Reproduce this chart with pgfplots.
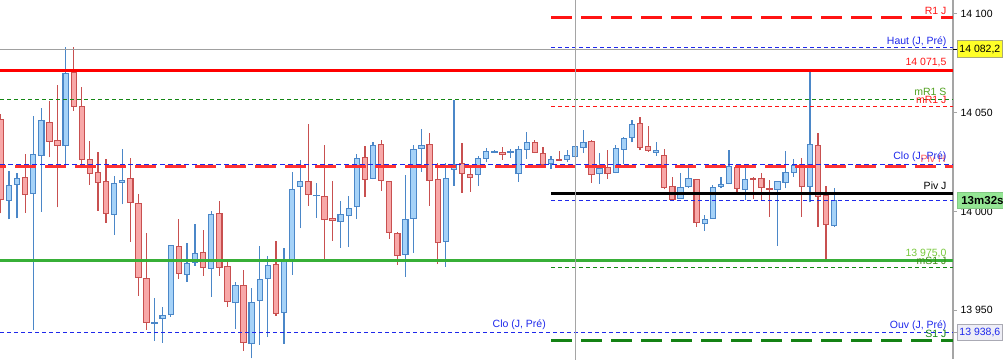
\documentclass[border=0pt]{standalone}
\usepackage{pgfplots}
\pgfplotsset{compat=1.18}
\usepackage{pgfplotstable}
\usepackage{fontspec}
\setmainfont{Liberation Sans}

\definecolor{rbord}{RGB}{200,80,80}
\definecolor{rfill}{RGB}{248,168,168}
\definecolor{bbord}{RGB}{75,135,200}
\definecolor{bfill}{RGB}{165,210,248}
\definecolor{lvred}{RGB}{255,20,20}
\definecolor{lvblue}{RGB}{30,40,235}
\definecolor{lvgreen}{RGB}{20,135,20}
\definecolor{lvgreen2}{RGB}{55,175,55}
\definecolor{lbgreen}{RGB}{120,200,60}
\definecolor{axgray}{RGB}{165,165,165}

% red (bearish) candles: index, open, high, low, close
\pgfplotstableread{
i O H L C
0 14046.7 14049.4 13999.1 14006.2
3 14017.3 14029.0 13999.4 14008.7
6 14045.2 14056.0 14027.4 14035.5
7 14036.0 14064.1 14002.1 14033.5
9 14070.5 14083.3 14051.1 14053.3
10 14053.3 14063.0 14021.9 14026.4
11 14026.4 14035.7 14013.6 14019.3
12 14019.8 14030.0 14000.4 14014.8
13 14015.3 14026.6 13994.4 13999.1
16 14016.8 14027.1 13984.7 14004.6
17 14004.1 14008.9 13957.4 13966.7
18 13966.2 13989.1 13940.2 13943.9
22 13982.4 13996.2 13966.0 13968.7
25 13979.3 13990.6 13967.5 13971.7
27 13999.1 14005.3 13967.5 13971.7
28 13972.2 13974.8 13951.8 13954.5
30 13962.6 13970.4 13929.5 13933.8
34 13973.3 13985.1 13947.3 13948.4
38 14015.3 14044.3 14003.0 14008.7
40 14007.7 14033.5 13976.0 13996.0
41 13996.5 14015.3 13985.2 13995.5
45 14027.4 14033.0 14007.5 14016.3
47 14034.0 14036.0 14010.6 14015.8
48 14015.3 14015.3 13986.2 13989.5
49 13988.9 13989.8 13973.1 13977.8
53 14034.0 14039.6 14003.0 14015.8
54 14016.3 14024.4 13973.3 13984.4
57 14024.4 14034.5 14009.5 14019.3
58 14018.8 14021.9 14010.0 14017.3
62 14030.0 14032.7 14026.1 14028.9
66 14035.0 14036.2 14029.5 14030.0
67 14029.5 14032.7 14023.4 14023.9
69 14026.4 14030.8 14025.9 14025.9
73 14035.5 14036.2 14014.6 14018.8
75 14022.4 14031.1 14016.6 14019.3
79 14044.6 14047.9 14031.0 14032.5
80 14033.0 14043.3 14030.3 14031.0
82 14028.4 14031.5 14011.2 14012.2
83 14012.7 14017.3 14005.8 14006.2
86 14016.3 14016.3 13992.3 13994.5
91 14022.4 14022.4 14009.2 14011.7
93 14016.8 14017.3 14006.5 14016.3
94 14016.8 14019.3 14005.8 14012.2
95 14011.7 14015.8 13997.4 14011.2
99 14023.9 14026.9 13997.4 14012.7
101 14033.5 14039.6 13992.3 14007.7
102 14008.2 14012.7 13976.0 13993.5
}\redc

% blue (bullish) candles: index, open, high, low, close
\pgfplotstableread{
i O H L C
1 14005.7 14020.5 13996.0 14013.3
2 14013.8 14019.3 13996.5 14016.8
4 14009.2 14048.4 13940.0 14029.0
5 14028.4 14052.2 13999.9 14046.2
8 14033.5 14083.3 14022.7 14070.0
14 13998.6 14018.0 13988.3 14014.3
15 14014.8 14031.7 14003.6 14015.8
19 13943.4 13956.2 13934.6 13943.9
20 13945.9 13951.7 13933.6 13947.4
21 13947.9 13982.9 13946.8 13982.9
23 13968.2 13984.1 13964.5 13973.8
24 13974.3 13993.7 13972.6 13978.8
26 13971.2 14000.1 13956.9 13998.6
29 13954.0 13964.1 13940.7 13962.6
31 13933.3 13961.1 13925.7 13954.0
32 13955.0 13982.5 13932.6 13965.7
33 13966.2 13977.5 13936.6 13972.7
35 13948.9 13981.5 13933.1 13974.8
36 13975.8 14019.8 13968.0 14011.2
37 14012.7 14025.9 13991.5 14015.3
39 14008.0 14014.3 13996.9 14008.2
42 13995.0 14005.2 13981.7 13998.6
43 13998.1 14007.7 13982.2 14001.6
44 14002.6 14029.0 13996.4 14026.9
46 14016.8 14035.0 14016.3 14033.5
50 13978.3 14018.3 13967.0 13996.0
51 13996.5 14033.5 13979.2 14031.5
52 14032.0 14041.6 14020.2 14033.5
55 13984.9 14024.4 13972.1 14016.8
56 14021.4 14056.5 14013.1 14023.9
59 14018.8 14027.9 14013.1 14026.9
60 14026.9 14032.0 14024.9 14030.5
61 14030.0 14031.1 14029.5 14030.5
63 14030.0 14031.5 14027.3 14030.1
64 14019.3 14033.0 14015.1 14031.5
65 14031.5 14040.3 14026.8 14035.0
68 14024.4 14027.9 14021.7 14026.4
70 14026.4 14031.1 14025.2 14028.4
71 14027.9 14041.3 14026.9 14033.0
72 14032.5 14041.3 14029.5 14035.0
74 14019.3 14029.6 14014.1 14021.9
76 14019.8 14033.5 14019.3 14032.0
77 14031.5 14037.7 14023.9 14037.0
78 14037.6 14046.3 14035.0 14044.1
81 14030.0 14035.2 14028.3 14031.0
84 14006.7 14019.3 14006.7 14012.2
85 14012.6 14023.4 14012.1 14016.8
87 13994.0 13998.1 13990.3 13996.0
88 13996.5 14013.3 13996.5 14012.2
89 14012.7 14017.3 14011.7 14013.8
90 14014.3 14031.0 14013.8 14022.9
92 14011.2 14022.4 14005.8 14016.3
96 14011.2 14015.3 13982.7 14015.3
97 14014.8 14030.5 14011.7 14019.8
98 14019.8 14026.4 14017.6 14023.4
100 14012.7 14070.6 14004.6 14034.0
103 13993.0 14011.7 13992.3 14005.7
}\bluec

\begin{document}
\begin{tikzpicture}
\useasboundingbox (0,0) rectangle (1003pt,359pt);
\begin{axis}[
  at={(0,0)}, anchor=south west,
  scale only axis, width=953pt, height=359pt,
  xmin=-0.111, xmax=117.69, ymin=13925.32, ymax=14107.09,
  axis x line=none, axis y line*=right,
  axis line style={axgray, line width=1.3pt},
  ytick={13950,14000,14050,14100},
  yticklabels={13 950,14 000,14 050,14 100},
  tick align=outside, major tick length=4pt,
  tick style={axgray, line width=1pt},
  yticklabel style={font=\fontsize{10.5}{12}\selectfont, text=black},
  every error bar/.append style={line cap=butt},
]
% wicks
\addplot[forget plot, draw=none, mark=none, error bars/.cd, y dir=plus, y explicit, error mark=none,
  error bar style={draw=rbord, line width=1.2pt}]
  table[x=i, y=L, y error plus expr={\thisrow{H}-\thisrow{L}}] {\redc};
\addplot[forget plot, draw=none, mark=none, error bars/.cd, y dir=plus, y explicit, error mark=none,
  error bar style={draw=bbord, line width=1.2pt}]
  table[x=i, y=L, y error plus expr={\thisrow{H}-\thisrow{L}}] {\bluec};
% bodies: border
\addplot[forget plot, draw=none, mark=none, error bars/.cd, y dir=plus, y explicit, error mark=none,
  error bar style={draw=rbord, line width=6.4pt}]
  table[x=i, y expr={\thisrow{C}-0.35}, y error plus expr={\thisrow{O}-\thisrow{C}+0.7}] {\redc};
\addplot[forget plot, draw=none, mark=none, error bars/.cd, y dir=plus, y explicit, error mark=none,
  error bar style={draw=bbord, line width=6.4pt}]
  table[x=i, y expr={\thisrow{O}-0.35}, y error plus expr={\thisrow{C}-\thisrow{O}+0.7}] {\bluec};
% bodies: fill
\addplot[forget plot, draw=none, mark=none, error bars/.cd, y dir=plus, y explicit, error mark=none,
  error bar style={draw=rfill, line width=4.2pt}]
  table[x=i, y expr={\thisrow{C}+0.35}, y error plus expr={max(\thisrow{O}-\thisrow{C}-0.7,0)}] {\redc};
\addplot[forget plot, draw=none, mark=none, error bars/.cd, y dir=plus, y explicit, error mark=none,
  error bar style={draw=bfill, line width=4.2pt}]
  table[x=i, y expr={\thisrow{O}+0.35}, y error plus expr={max(\thisrow{C}-\thisrow{O}-0.7,0)}] {\bluec};

% level lines
\addplot[forget plot, color={rgb,255:red,160;green,160;blue,160}, line width=1.2pt] coordinates {(-0.111,14082.2) (117.69,14082.2)};
\addplot[forget plot, lvred, line width=3pt, dash pattern=on 21pt off 9pt] coordinates {(68,14098.1) (117.69,14098.1)};
\addplot[forget plot, lvblue, line width=1pt, dash pattern=on 4pt off 3pt] coordinates {(68,14083.1) (117.69,14083.1)};
\addplot[forget plot, color={rgb,255:red,255;green,0;blue,0}, line width=3.5pt] coordinates {(-0.111,14071.5) (117.69,14071.5)};
\addplot[forget plot, lvgreen, line width=1pt, dash pattern=on 4pt off 3pt] coordinates {(-0.111,14056.8) (117.69,14056.8)};
\addplot[forget plot, lvred, line width=1pt, dash pattern=on 4pt off 3pt] coordinates {(68,14053.3) (117.69,14053.3)};
\addplot[forget plot, lvblue, line width=1.2pt, dash pattern=on 5pt off 3pt] coordinates {(-0.111,14023.9) (117.69,14023.9)};
\addplot[forget plot, color={rgb,255:red,255;green,50;blue,50}, line width=3pt, dash pattern=on 21pt off 9pt, dash phase=15pt] coordinates {(-0.111,14022.7) (117.69,14022.7)};
\addplot[forget plot, black, line width=2.7pt] coordinates {(68,14009.2) (117.69,14009.2)};
\addplot[forget plot, lvblue, line width=1pt, dash pattern=on 4pt off 3pt] coordinates {(68,14005.8) (117.69,14005.8)};
\addplot[forget plot, lvgreen2, line width=3pt] coordinates {(-0.111,13975.0) (117.69,13975.0)};
\addplot[forget plot, lvgreen, line width=1pt, dash pattern=on 4pt off 3pt] coordinates {(68,13971.7) (117.69,13971.7)};
\addplot[forget plot, lvblue, line width=1pt, dash pattern=on 4pt off 3pt] coordinates {(-0.111,13938.8) (117.69,13938.8)};
\addplot[forget plot, color={rgb,255:red,20;green,130;blue,20}, line width=3pt, dash pattern=on 21pt off 9pt] coordinates {(68,13934.8) (117.69,13934.8)};
\addplot[forget plot, color={rgb,255:red,165;green,165;blue,165}, line width=1.3pt] coordinates {(71,13900) (71,14120)};

% labels
\begin{scope}[every node/.style={font=\fontsize{10.5}{12}\selectfont, inner sep=0pt, anchor=base east}]
\node[text=lvred] at (axis cs:116.91,14099.5) {R1 J};
\node[text=lvblue] at (axis cs:116.91,14084.8) {Haut (J, Pré)};
\node[text=lvred] at (axis cs:116.91,14073.9) {14 071,5};
\node[text={rgb,255:red,80;green,160;blue,30}] at (axis cs:116.91,14058.6) {mR1 S};
\node[text=lvred] at (axis cs:116.91,14054.8) {mR1 J};
\node[text={rgb,255:red,255;green,90;blue,90}] at (axis cs:116.80,14024.6) {Piv H};
\node[text=lvblue] at (axis cs:116.91,14026.1) {Clo (J, Pré)};
\node[text=black] at (axis cs:116.91,14010.9) {Piv J};
\node[text=lbgreen] at (axis cs:116.91,13977.2) {13 975,0};
\node[text={rgb,255:red,60;green,140;blue,20}] at (axis cs:116.91,13973.4) {mS1 J};
\node[text=lvblue] at (axis cs:116.91,13941.0) {Ouv (J, Pré)};
\node[text=lvgreen] at (axis cs:116.91,13936.0) {S1 J};
\node[text=lvblue] at (axis cs:67.38,13941.3) {Clo (J, Pré)};
\end{scope}
\coordinate (pHaut) at (axis cs:117.69,14082.2);
\coordinate (pNow) at (axis cs:117.69,14005.8);
\coordinate (pOuv) at (axis cs:117.69,13938.8);
\end{axis}
\draw[black, line width=1pt] (pHaut) -- ++(4pt,0);
\draw[axgray, line width=1pt] (pOuv) -- ++(4pt,0);
\node[anchor=west, fill={rgb,255:red,255;green,255;blue,40}, draw={rgb,255:red,170;green,170;blue,120}, line width=0.8pt,
  minimum width=45pt, minimum height=17pt, inner sep=1pt, font=\fontsize{10.5}{12}\selectfont] at ([xshift=4pt]pHaut) {14 082,2};
\node[anchor=west, fill={rgb,255:red,148;green,230;blue,148}, draw={rgb,255:red,130;green,200;blue,130}, line width=0.8pt,
  minimum width=52pt, minimum height=16pt, inner sep=1pt, align=left, font=\fontsize{11.5}{13}\selectfont\bfseries] at ([xshift=4pt]pNow) {13m32s\,};
\node[anchor=west, fill={rgb,255:red,238;green,238;blue,246}, draw={rgb,255:red,170;green,170;blue,180}, line width=0.8pt,
  minimum width=45pt, minimum height=16pt, inner sep=1pt, text=lvblue, font=\fontsize{10.5}{12}\selectfont] at ([xshift=4pt]pOuv) {13 938,6};
\end{tikzpicture}
\end{document}
